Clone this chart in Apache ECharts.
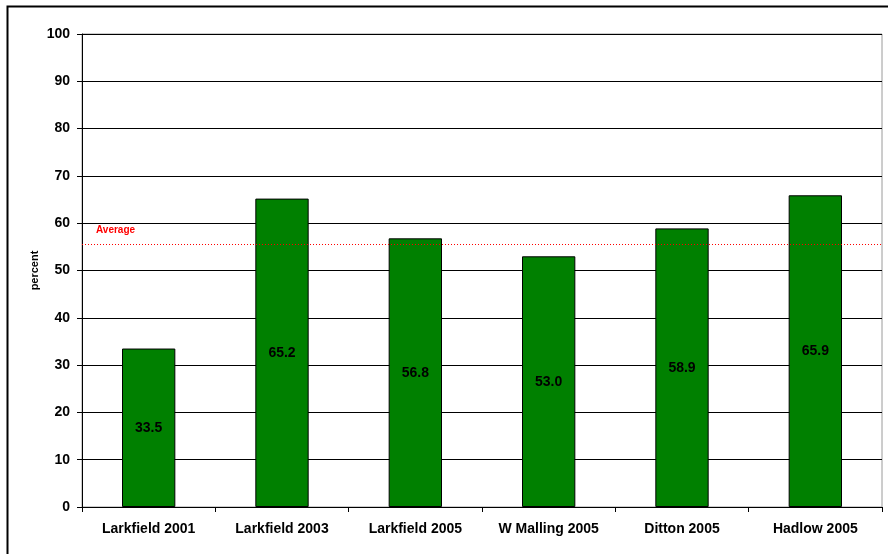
<!DOCTYPE html>
<html>
<head>
<meta charset="utf-8">
<script src="https://cdn.jsdelivr.net/npm/echarts@6/dist/echarts.min.js"></script>
<style>
  html, body { margin: 0; padding: 0; background: #fff; }
  #chart { width: 888px; height: 554px; }
</style>
</head>
<body>
<div id="chart"></div>
<script>
// Survey sites and their results (percent)
const categories = ['Larkfield 2001', 'Larkfield 2003', 'Larkfield 2005', 'W Malling 2005', 'Ditton 2005', 'Hadlow 2005'];
const values = [33.5, 65.2, 56.8, 53.0, 58.9, 65.9];
const yTicks = { min: 0, max: 100, interval: 10 };

const average = values.reduce((a, b) => a + b, 0) / values.length;
const FONT = '"Liberation Sans", Arial, sans-serif';

const chart = echarts.init(document.getElementById('chart'), null, { renderer: 'canvas' });
chart.setOption({
  animation: false,
  backgroundColor: '#fff',
  grid: { left: 82, right: 6, top: 34, bottom: 47, show: true, borderColor: '#9a9a9a', borderWidth: 1, backgroundColor: 'transparent' },
  xAxis: {
    type: 'category',
    data: categories,
    axisLine: { lineStyle: { color: '#000', width: 1 } },
    axisTick: { show: true, length: 5, lineStyle: { color: '#000' } },
    axisLabel: { color: '#000', fontFamily: FONT, fontWeight: 'bold', fontSize: 14, margin: 15 }
  },
  yAxis: {
    type: 'value',
    min: yTicks.min, max: yTicks.max, interval: yTicks.interval,
    name: 'percent',
    nameLocation: 'middle',
    nameGap: 42,
    nameMoveOverlap: false,
    nameTextStyle: { color: '#000', fontFamily: FONT, fontWeight: 'bold', fontSize: 11 },
    axisLine: { show: true, lineStyle: { color: '#000', width: 1 } },
    axisTick: { show: true, length: 5, lineStyle: { color: '#000' } },
    axisLabel: { color: '#000', fontFamily: FONT, fontWeight: 'bold', fontSize: 14, margin: 12 },
    splitLine: { show: true, lineStyle: { color: '#000', width: 1 } }
  },
  series: [{
    type: 'bar',
    data: values,
    barWidth: '40%',
    itemStyle: { color: '#008000', borderColor: '#000', borderWidth: 1 },
    label: {
      show: true,
      position: 'inside',
      formatter: p => p.value.toFixed(1),
      color: '#000', fontFamily: FONT, fontWeight: 'bold', fontSize: 14
    },
    markLine: {
      silent: true,
      symbol: 'none',
      lineStyle: { color: '#ff0000', type: [1, 2], width: 1 },
      label: { show: false },
      data: [{ yAxis: average }],
      z: 10
    }
  }]
});

// Outer frame and the "Average" caption above the reference line
const avgY = chart.convertToPixel({ yAxisIndex: 0 }, average);
chart.setOption({
  graphic: [{
    type: 'rect',
    shape: { x: 7.5, y: 6.5, width: 920, height: 600 },
    style: { fill: 'none', stroke: '#000', lineWidth: 2 },
    z: 100
  }, {
    type: 'text',
    x: 96, y: avgY - 19,
    style: { text: 'Average', fill: '#ff0000', font: 'bold 10px ' + FONT },
    z: 100
  }]
});
</script>
</body>
</html>
